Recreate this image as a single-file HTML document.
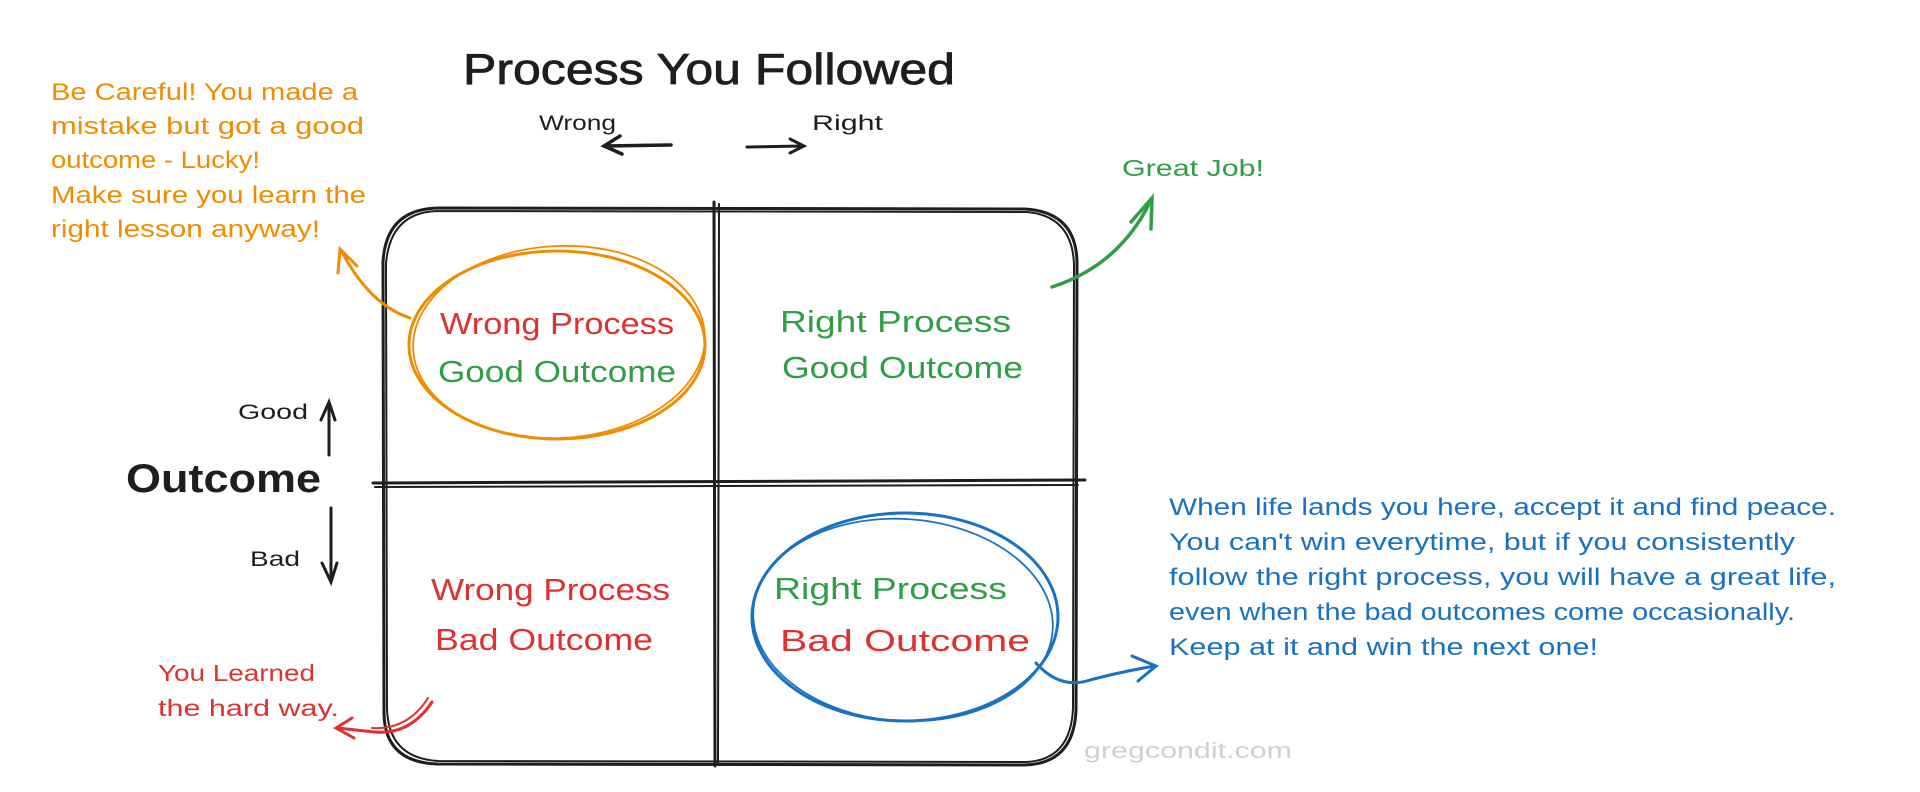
<!DOCTYPE html>
<html><head><meta charset="utf-8"><style>
html,body{margin:0;padding:0;background:#fff;}
svg{display:block;}
text{font-family:"Liberation Sans",sans-serif;}
</style></head><body>
<svg width="1920" height="792" viewBox="0 0 1920 792" xmlns="http://www.w3.org/2000/svg">
<g fill="none" stroke="#1e1e1e" stroke-width="3" stroke-linecap="round">
<path d="M440 208 L1025 209 Q1076 212 1077 262 L1076 710 Q1074 764 1024 765 L437 764 Q384 762 384 712 L383 262 Q386 208 440 208 Z"/>
<path d="M438 211 L1027 212 Q1072 216 1074 264 L1073 708 Q1071 760 1026 762 L438 761 Q388 758 387 708 L386 264 Q390 212 438 211" stroke-width="2"/>
<path d="M714 202 L715 766"/><path d="M719 204 L718 764" stroke-width="2"/>
<path d="M373 483 L1085 480"/><path d="M375 487 L1078 485" stroke-width="2"/>
<path d="M671 145 L606 146 M620 136 L604 146 L622 154" stroke-width="3.5"/>
<path d="M747 147 L802 146 M790 139 L804 146 L790 153" stroke-width="3"/>
<path d="M329 455 L329 404 M321 420 L329 402 L335 420" stroke-width="3"/>
<path d="M331 508 L331 580 M322 563 L331 582 L337 563" stroke-width="3"/>
</g>
<g fill="none" stroke="#f08c00" stroke-width="3" stroke-linecap="round">
<ellipse cx="557" cy="345" rx="148" ry="94"/>
<ellipse cx="559" cy="342" rx="146" ry="96" transform="rotate(-3 559 342)" stroke-width="1.8"/>
<path d="M410 318 Q370 305 342 252 M338 273 L340 249 L357 266"/>
</g>
<g fill="none" stroke="#1971c2" stroke-width="3" stroke-linecap="round">
<ellipse cx="905" cy="617" rx="153" ry="104"/>
<ellipse cx="903" cy="620" rx="150" ry="101" transform="rotate(4 903 620)" stroke-width="1.8"/>
<path d="M1036 663 Q1060 690 1090 680 Q1120 672 1155 666 M1132 656 L1156 666 L1138 681"/>
</g>
<g fill="none" stroke="#2f9e44" stroke-width="3.5" stroke-linecap="round">
<path d="M1052 287 Q1120 265 1151 200 M1131 222 L1152 198 L1151 229"/>
</g>
<g fill="none" stroke="#e03131" stroke-width="3" stroke-linecap="round">
<path d="M432 702 Q410 735 375 732 Q355 730 338 728 M352 718 L336 728 L354 738"/>
<path d="M428 698 Q408 730 372 728" stroke-width="2"/>
</g>
<text x="463" y="84" font-size="44" fill="#1e1e1e" stroke="#1e1e1e" stroke-width="0.8" textLength="492" lengthAdjust="spacingAndGlyphs">Process You Followed</text>
<text x="539" y="130" font-size="21" fill="#1e1e1e" textLength="77" lengthAdjust="spacingAndGlyphs">Wrong</text>
<text x="812" y="130" font-size="21" fill="#1e1e1e" textLength="71" lengthAdjust="spacingAndGlyphs">Right</text>
<text x="238" y="419" font-size="21" fill="#1e1e1e" textLength="70" lengthAdjust="spacingAndGlyphs">Good</text>
<text x="250" y="566" font-size="21" fill="#1e1e1e" textLength="50" lengthAdjust="spacingAndGlyphs">Bad</text>
<text x="126" y="492" font-size="40" font-weight="bold" fill="#1e1e1e" textLength="195" lengthAdjust="spacingAndGlyphs">Outcome</text>
<g font-size="24" fill="#f08c00">
<text x="51" y="100" textLength="307" lengthAdjust="spacingAndGlyphs">Be Careful! You made a</text>
<text x="51" y="134" textLength="313" lengthAdjust="spacingAndGlyphs">mistake but got a good</text>
<text x="51" y="168" textLength="209" lengthAdjust="spacingAndGlyphs">outcome - Lucky!</text>
<text x="51" y="203" textLength="315" lengthAdjust="spacingAndGlyphs">Make sure you learn the</text>
<text x="51" y="237" textLength="269" lengthAdjust="spacingAndGlyphs">right lesson anyway!</text>
</g>
<g font-size="31">
<text x="440" y="334" fill="#e03131" textLength="234" lengthAdjust="spacingAndGlyphs">Wrong Process</text>
<text x="438" y="382" fill="#2f9e44" textLength="238" lengthAdjust="spacingAndGlyphs">Good Outcome</text>
<text x="780" y="332" fill="#2f9e44" textLength="231" lengthAdjust="spacingAndGlyphs">Right Process</text>
<text x="782" y="378" fill="#2f9e44" textLength="241" lengthAdjust="spacingAndGlyphs">Good Outcome</text>
<text x="431" y="600" fill="#e03131" textLength="239" lengthAdjust="spacingAndGlyphs">Wrong Process</text>
<text x="435" y="650" fill="#e03131" textLength="218" lengthAdjust="spacingAndGlyphs">Bad Outcome</text>
<text x="774" y="599" fill="#2f9e44" textLength="233" lengthAdjust="spacingAndGlyphs">Right Process</text>
<text x="780" y="651" fill="#e03131" textLength="250" lengthAdjust="spacingAndGlyphs">Bad Outcome</text>
</g>
<text x="1122" y="176" font-size="23" fill="#2f9e44" textLength="142" lengthAdjust="spacingAndGlyphs">Great Job!</text>
<g font-size="24" fill="#1971c2">
<text x="1169" y="515" textLength="667" lengthAdjust="spacingAndGlyphs">When life lands you here, accept it and find peace.</text>
<text x="1169" y="550" textLength="626" lengthAdjust="spacingAndGlyphs">You can't win everytime, but if you consistently</text>
<text x="1169" y="585" textLength="667" lengthAdjust="spacingAndGlyphs">follow the right process, you will have a great life,</text>
<text x="1169" y="620" textLength="626" lengthAdjust="spacingAndGlyphs">even when the bad outcomes come occasionally.</text>
<text x="1169" y="655" textLength="429" lengthAdjust="spacingAndGlyphs">Keep at it and win the next one!</text>
</g>
<text x="158" y="681" font-size="23" fill="#e03131" textLength="157" lengthAdjust="spacingAndGlyphs">You Learned</text>
<text x="158" y="716" font-size="23" fill="#e03131" textLength="181" lengthAdjust="spacingAndGlyphs">the hard way.</text>
<text x="1084" y="758" font-size="22" fill="#d0d0d0" font-family="Liberation Mono, monospace" textLength="208" lengthAdjust="spacingAndGlyphs">gregcondit.com</text>
</svg>
</body></html>
